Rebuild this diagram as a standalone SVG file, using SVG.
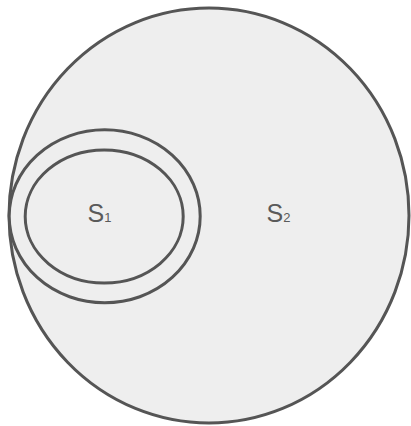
<svg xmlns="http://www.w3.org/2000/svg" width="411" height="426" viewBox="0 0 411 426">
<style>
.shape{fill:#eeeeee;stroke:#555555;stroke-width:3}
.lbl{font-family:"Liberation Sans",Arial,sans-serif;font-size:25px;fill:#5a5a5a}
.sub{font-size:13px}
</style>
<rect width="411" height="426" fill="#ffffff"/>
<g id="S2">
<ellipse class="shape" cx="209" cy="215.5" rx="200" ry="207.5"/>
<text class="lbl" x="266.5" y="222">S<tspan class="sub">2</tspan></text>
</g>
<g id="S1outer">
<ellipse class="shape" cx="104.7" cy="216.3" rx="95.5" ry="86.5"/>
</g>
<g id="S1">
<ellipse class="shape" cx="104.2" cy="216.5" rx="79" ry="66.5"/>
<text class="lbl" x="87.5" y="222">S<tspan class="sub">1</tspan></text>
</g>
<g id="connectors"/>
</svg>
